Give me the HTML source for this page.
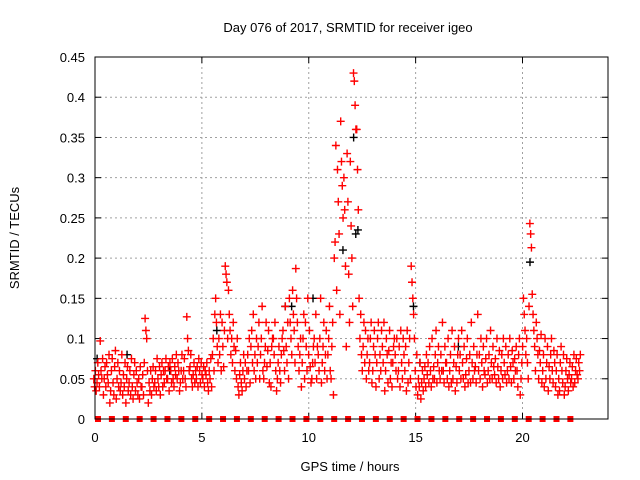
<!DOCTYPE html>
<html><head><meta charset="utf-8">
<style>
html,body{margin:0;padding:0;background:#fff;}
svg{display:block;font-family:"Liberation Sans",sans-serif;}
</style></head>
<body>
<svg id="chart" width="640" height="480" viewBox="0 0 640 480">
<rect width="640" height="480" fill="#fff"/>
<text x="348" y="32" font-size="13" text-anchor="middle" fill="#000">Day 076 of 2017, SRMTID for receiver igeo</text>
<text x="350" y="471" font-size="13" text-anchor="middle" fill="#000">GPS time / hours</text>
<text x="19" y="238" font-size="13" text-anchor="middle" fill="#000" transform="rotate(-90 19 238)">SRMTID / TECUs</text>
<g id="grid"></g>
<g id="ticks"></g>
<g id="black"></g>
<g id="red"></g>
<g id="squares"></g>
<rect x="95" y="57" width="513" height="362" fill="none" stroke="#000" stroke-width="1"/>
</svg>
<script>
const xTicks=[0,5,10,15,20];
const yTicks=[0,0.05,0.1,0.15,0.2,0.25,0.3,0.35,0.4,0.45];
const yTickLabels=["0","0.05","0.1","0.15","0.2","0.25","0.3","0.35","0.4","0.45"];
const redRows=[
[0,.05,.04,.06,.035],[0.15,.045,.07,.055,.04],[0.3,.097,.06,.05,.075],[0.45,.03,.05,.065,.04],
[0.6,.07,.055,.045,.08],[0.75,.02,.035,.06,.075],[0.9,.045,.03,.065,.085],[1.05,.025,.05,.07,.04],
[1.2,.06,.035,.045,.08],[1.35,.03,.055,.04,.07],[1.5,.02,.05,.065,.035],[1.65,.045,.06,.03,.075],
[1.8,.04,.025,.055,.07],[1.95,.035,.06,.045,.03],[2.1,.05,.025,.065,.04],[2.25,.04,.055,.03,.07],
[2.4,.125,.11,.1,.06],[2.55,.02,.045,.035,.06],[2.7,.03,.05,.065,.04],[2.85,.045,.06,.035,.075],
[3.0,.05,.04,.065,.03],[3.15,.055,.07,.04,.06],[3.3,.045,.06,.075,.05],[3.45,.05,.065,.035,.07],
[3.6,.06,.045,.075,.05],[3.75,.04,.065,.055,.08],[3.9,.05,.07,.06,.035],[4.05,.045,.06,.08,.05],
[4.2,.06,.075,.05,.04],[4.35,.127,.1,.085,.06],[4.5,.065,.08,.05,.04],[4.65,.055,.07,.045,.06],
[4.8,.05,.065,.04,.075],[4.95,.06,.045,.07,.055],[5.1,.05,.065,.04,.06],[5.25,.055,.07,.045,.035],
[5.4,.06,.05,.075,.04],[5.55,.08,.1,.06,.13],[5.7,.15,.12,.09,.07],[5.85,.1,.08,.13,.06],
[6.0,.12,.09,.065,.11],[6.15,.19,.18,.17,.1],[6.3,.16,.13,.11,.08],[6.45,.1,.07,.12,.09],
[6.6,.06,.085,.05,.1],[6.75,.04,.03,.055,.07],[6.9,.045,.035,.06,.08],[7.05,.05,.07,.04,.06],
[7.2,.08,.06,.1,.045],[7.35,.09,.11,.07,.13],[7.5,.06,.08,.05,.1],[7.65,.07,.09,.12,.05],
[7.8,.08,.1,.14,.06],[7.95,.05,.07,.09,.12],[8.1,.065,.085,.11,.045],[8.25,.07,.04,.09,.1],
[8.4,.1,.08,.12,.06],[8.55,.035,.05,.07,.09],[8.7,.06,.045,.08,.1],[8.85,.11,.085,.06,.14],
[9.0,.09,.07,.12,.05],[9.15,.15,.12,.1,.08],[9.3,.16,.13,.11,.07],[9.45,.187,.15,.12,.09],
[9.6,.06,.08,.1,.04],[9.75,.07,.1,.13,.05],[9.9,.12,.09,.06,.15],[10.05,.08,.11,.065,.045],
[10.2,.05,.07,.09,.1],[10.35,.07,.13,.05,.09],[10.5,.08,.06,.1,.15],[10.65,.045,.07,.09,.12],
[10.8,.06,.08,.11,.05],[10.95,.08,.1,.14,.06],[11.1,.05,.09,.12,.03],[11.25,.2,.22,.34,.16],
[11.4,.31,.27,.23,.13],[11.55,.37,.32,.29,.25],[11.7,.3,.26,.19,.09],[11.85,.33,.27,.18,.12],
[12.0,.32,.24,.2,.14],[12.15,.43,.42,.39,.36],[12.3,.36,.31,.26,.15],[12.45,.1,.13,.08,.06],
[12.6,.09,.12,.07,.11],[12.75,.05,.08,.1,.06],[12.9,.07,.1,.12,.045],[13.05,.06,.09,.11,.08],
[13.2,.04,.07,.1,.12],[13.35,.05,.08,.06,.11],[13.5,.09,.07,.12,.035],[13.65,.06,.1,.08,.045],
[13.8,.085,.11,.05,.07],[13.95,.04,.07,.09,.1],[14.1,.08,.06,.1,.05],[14.25,.06,.09,.04,.11],
[14.4,.07,.05,.1,.08],[14.55,.06,.09,.035,.11],[14.7,.045,.07,.1,.05],[14.85,.19,.17,.15,.13],
[15.0,.1,.06,.04,.08],[15.15,.03,.05,.04,.07],[15.3,.025,.045,.06,.035],[15.45,.05,.065,.04,.08],
[15.6,.055,.07,.045,.09],[15.75,.06,.04,.1,.05],[15.9,.065,.05,.08,.11],[16.05,.045,.07,.09,.06],
[16.2,.05,.08,.06,.12],[16.35,.06,.045,.09,.07],[16.5,.07,.05,.1,.04],[16.65,.06,.08,.045,.11],
[16.8,.05,.07,.09,.035],[16.95,.065,.045,.08,.1],[17.1,.06,.08,.05,.11],[17.25,.07,.05,.09,.04],
[17.4,.055,.075,.1,.045],[17.55,.06,.08,.045,.12],[17.7,.07,.05,.09,.06],[17.85,.065,.045,.08,.13],
[18.0,.06,.08,.05,.1],[18.15,.07,.04,.09,.06],[18.3,.055,.075,.1,.045],[18.45,.06,.08,.05,.11],
[18.6,.07,.05,.09,.065],[18.75,.055,.075,.045,.1],[18.9,.065,.05,.085,.04],[19.05,.06,.08,.05,.1],
[19.2,.07,.055,.09,.045],[19.35,.06,.08,.05,.1],[19.5,.065,.045,.085,.07],[19.65,.05,.075,.06,.09],
[19.8,.06,.04,.08,.1],[19.95,.03,.05,.07,.09],[20.1,.15,.13,.11,.08],[20.25,.1,.07,.05,.14],
[20.4,.243,.23,.213,.155],[20.55,.13,.11,.09,.06],[20.7,.12,.1,.08,.05],[20.85,.085,.07,.105,.045],
[21.0,.06,.08,.04,.1],[21.15,.05,.07,.09,.035],[21.3,.065,.05,.08,.1],[21.45,.06,.045,.085,.07],
[21.6,.04,.06,.08,.03],[21.75,.05,.035,.07,.09],[21.9,.06,.045,.08,.03],[22.05,.04,.06,.075,.05],
[22.2,.035,.055,.07,.045],[22.35,.05,.065,.04,.08],[22.5,.045,.06,.075,.055],[22.65,.05,.07,.06,.08]
];
const blackTimes=[0.1,1.5,5.7,9.2,10.2,11.6,12.1,12.2,12.3,14.9,15.2,20.35,8.9,17.0,3.5];
const blackValues=[0.075,0.08,0.11,0.14,0.15,0.21,0.35,0.23,0.235,0.14,0.07,0.195,0.14,0.09,0.06];
const zeroTimes=[0.14,0.79,1.44,2.09,2.74,3.39,4.04,4.69,5.34,5.99,6.64,7.29,7.94,8.59,9.24,9.89,10.54,11.19,11.84,12.49,13.14,13.79,14.44,15.09,15.74,16.39,17.04,17.69,18.34,18.99,19.64,20.29,20.94,21.59,22.24];

const NS="http://www.w3.org/2000/svg";
const X0=95,X1=608,Y0=419,Y1=57,XMAX=24,YMAX=0.45;
const xs=v=>X0+(X1-X0)*v/XMAX;
const ys=v=>Y0-(Y0-Y1)*v/YMAX;
function mk(tag,attrs,parent){const e=document.createElementNS(NS,tag);for(const k in attrs)e.setAttribute(k,attrs[k]);parent.appendChild(e);return e;}
const grid=document.getElementById('grid'),ticks=document.getElementById('ticks');
xTicks.forEach(t=>{
  const x=xs(t);
  if(t>0){const g=mk('line',{x1:x,x2:x,y1:Y1,y2:Y0,stroke:'#a0a0a0','stroke-dasharray':'2,3'},grid);
  
  }
  mk('line',{x1:x,x2:x,y1:Y0,y2:Y0-6,stroke:'#000'},ticks);
  mk('line',{x1:x,x2:x,y1:Y1,y2:Y1+6,stroke:'#000'},ticks);
  const l=mk('text',{x:x,y:Y0+23,'font-size':13,'text-anchor':'middle'},ticks);
  l.textContent=String(t);
  
  
});
yTicks.forEach((t,i)=>{
  const y=ys(t);
  if(t>0){const g=mk('line',{x1:X0,x2:X1,y1:y,y2:y,stroke:'#a0a0a0','stroke-dasharray':'2,3'},grid);
  
  }
  mk('line',{x1:X0,x2:X0+6,y1:y,y2:y,stroke:'#000'},ticks);
  mk('line',{x1:X1,x2:X1-6,y1:y,y2:y,stroke:'#000'},ticks);
  const l=mk('text',{x:X0-10,y:y+5,'font-size':13,'text-anchor':'end'},ticks);
  l.textContent=yTickLabels[i];
  
  
});
function cross(parent,t,v,color,name){
  const x=xs(t),y=ys(v);
  const p=mk('path',{d:`M${x-4},${y}H${x+4}M${x},${y-4}V${y+4}`,stroke:color,'stroke-width':1.4,fill:'none'},parent);
  
  
}
const black=document.getElementById('black'),red=document.getElementById('red'),sq=document.getElementById('squares');
blackTimes.forEach((t,i)=>cross(black,t,blackValues[i],'#000','black-point'));
// spread a row's samples across its 0.15 h time bin (display offset only)
redRows.forEach(r=>{for(let j=1;j<r.length;j++)cross(red,r[0]+(j-2.5)*0.037,r[j],'#ff0000','red-point');});
zeroTimes.forEach(t=>{
  const s=mk('rect',{x:xs(t)-3,y:ys(0)-3,width:6,height:6,fill:'#ff0000'},sq);
  
  
});
</script>
</body></html>
